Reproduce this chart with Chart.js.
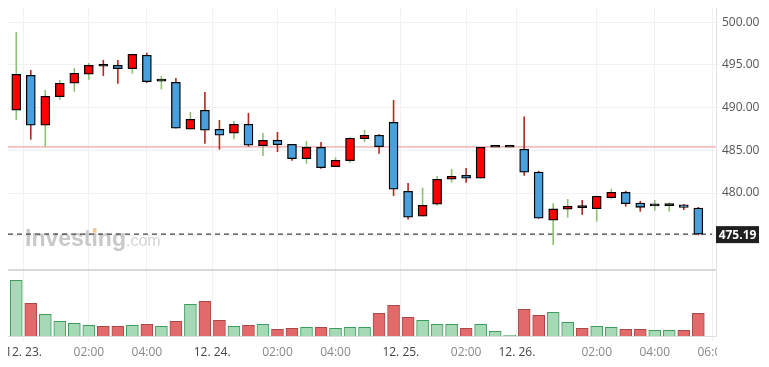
<!DOCTYPE html>
<html>
<head>
<meta charset="utf-8">
<script src="https://cdn.jsdelivr.net/npm/chart.js@4.4.1/dist/chart.umd.min.js"></script>
<style>
  html, body { margin: 0; padding: 0; background: #fff; }
  #wrap { position: absolute; left: 8px; top: 8px; width: 753px; height: 359px; }
</style>
</head>
<body>
<div id="wrap"><canvas id="chart" width="753" height="359"></canvas></div>
<script>
// 30 minute candles, 12.22 23:30 .. 12.26 06:00
const opens  = [489.70, 493.79, 487.94, 491.29, 492.86, 493.91, 494.85, 494.96, 494.57, 496.14,
                493.10, 492.97, 487.47, 489.70, 487.47, 487.00, 488.06, 485.55, 486.18, 485.71,
                484.03, 485.36, 483.09, 483.79, 486.37, 486.77, 488.29, 480.21, 477.28, 478.69,
                481.62, 482.08, 481.73, 485.36, 485.36, 485.13, 482.47, 476.81, 478.10, 478.29,
                478.17, 479.46, 480.09, 478.84, 478.49, 478.53, 478.61, 478.25];
const highs  = [498.86, 494.41, 492.07, 493.24, 494.65, 495.23, 495.59, 495.59, 496.30, 496.44,
                493.71, 493.48, 489.50, 491.84, 488.56, 488.44, 489.38, 487.04, 487.15, 485.75,
                486.10, 485.98, 484.19, 486.57, 487.39, 486.92, 490.90, 481.18, 480.63, 482.00,
                482.82, 482.94, 485.40, 485.36, 485.36, 488.95, 482.59, 478.81, 479.31, 479.19,
                479.70, 480.48, 480.25, 479.07, 479.19, 478.88, 478.72, 478.37];
const lows   = [488.56, 486.25, 485.43, 490.94, 491.87, 493.28, 493.71, 492.81, 493.98, 492.89,
                492.15, 487.55, 487.45, 485.78, 485.08, 486.30, 485.43, 484.34, 484.81, 483.79,
                483.44, 482.86, 483.05, 483.52, 485.98, 484.61, 479.66, 476.89, 477.25, 478.52,
                481.22, 481.22, 481.70, 485.36, 485.36, 482.04, 477.00, 473.92, 477.12, 477.44,
                476.65, 479.31, 478.41, 477.82, 477.94, 477.82, 478.02, 475.06];
const closes = [493.91, 487.94, 491.33, 492.86, 494.03, 494.96, 494.85, 494.57, 496.25, 493.05,
                493.10, 487.59, 488.64, 487.35, 486.77, 488.06, 485.60, 486.18, 485.67, 484.03,
                485.36, 482.97, 483.84, 486.42, 486.77, 485.43, 480.44, 477.17, 478.57, 481.62,
                481.97, 481.73, 485.36, 485.36, 485.36, 482.44, 477.05, 478.14, 478.45, 478.29,
                479.63, 480.09, 478.76, 478.33, 478.49, 478.53, 478.33, 475.19];
const volumes = [5570, 3270, 2170, 1470, 1270, 1070, 970, 970, 1070, 1170,
                 970, 1470, 3170, 3470, 1570, 970, 1070, 1170, 670, 770,
                 870, 870, 770, 870, 870, 2270, 3070, 1870, 1570, 1170,
                 1170, 770, 1170, 470, 70, 2670, 2070, 2370, 1370, 770,
                 970, 870, 670, 670, 570, 570, 570, 2270];

const tickPos  = [0.5, 5, 9, 13.5, 18, 22, 26.5, 31, 34.5, 40, 44, 48];
const tickText = ['12. 23.', '02:00', '04:00', '12. 24.', '02:00', '04:00',
                  '12. 25.', '02:00', '12. 26.', '02:00', '04:00', '06:00'];
const priceTicks = [475, 480, 485, 490, 495, 500];
const prevClose = 485.4;
const panelFloor = 471;

const lastClose = closes[closes.length - 1];

// up / down of each candle, ties fall back on the previous close
const side = closes.map((c, i) => {
    const s = Math.sign(c - opens[i]);
    if (s) return s;
    if (i > 0 && c !== closes[i - 1]) return Math.sign(c - closes[i - 1]);
    return 1;
});
const bodyColor = closes.map((c, i) => c > opens[i] ? '#ff0000' : (c < opens[i] ? '#4aa0dc' : '#111111'));
const wickColor = side.map(s => s > 0 ? '#8cc26f' : '#b3261e');
const volFill = side.map(s => s > 0 ? '#a6d9b5' : '#e26a6a');
const volLine = side.map(s => s > 0 ? '#3e9c5c' : '#a84848');

const FONT = '"Open Sans", "DejaVu Sans", sans-serif';
const LOGO = '"Liberation Sans", Arial, sans-serif';

const overlay = {
    id: 'overlay',
    beforeDatasetsDraw(chart) {
        const { ctx, chartArea: a, scales: { y } } = chart;
        ctx.save();

        // watermark
        ctx.textBaseline = 'alphabetic';
        ctx.font = 'bold 23px ' + LOGO;
        ctx.fillStyle = '#c9c9c9';
        ctx.fillText('Investing', 17, 238);
        const wInv = ctx.measureText('Investing').width;
        const wPre = ctx.measureText('Invest').width;
        const wI = ctx.measureText('i').width;
        ctx.fillStyle = '#f7c98a';
        ctx.fillRect(17 + wPre + wI / 2 - 1.8, 221, 3.6, 3.6);
        ctx.font = '16px ' + LOGO;
        ctx.fillStyle = '#d4d4d4';
        ctx.fillText('.com', 17 + wInv, 238);

        // volume panel separator
        const ySep = y.getPixelForValue(panelFloor);
        ctx.strokeStyle = '#cccccc';
        ctx.lineWidth = 1.5;
        ctx.beginPath();
        ctx.moveTo(a.left, ySep);
        ctx.lineTo(a.right, ySep);
        ctx.stroke();

        // previous close
        const yPrev = y.getPixelForValue(prevClose);
        ctx.strokeStyle = '#f2a5a5';
        ctx.lineWidth = 1.3;
        ctx.beginPath();
        ctx.moveTo(a.left, yPrev);
        ctx.lineTo(a.right, yPrev);
        ctx.stroke();

        // last price
        const yLast = y.getPixelForValue(lastClose);
        ctx.strokeStyle = '#444444';
        ctx.lineWidth = 1.3;
        ctx.setLineDash([5, 4]);
        ctx.beginPath();
        ctx.moveTo(a.left, yLast);
        ctx.lineTo(a.right - 4, yLast);
        ctx.stroke();
        ctx.restore();
    },
    afterDraw(chart) {
        const { ctx, chartArea: a, scales: { y } } = chart;
        ctx.save();
        // the price axis hides the end of the time axis
        ctx.fillStyle = '#ffffff';
        ctx.fillRect(a.right + 1, a.bottom + 6, chart.width - a.right, chart.height - a.bottom);

        const yLast = y.getPixelForValue(lastClose);
        ctx.fillStyle = '#1f1f1f';
        ctx.fillRect(a.right, yLast - 8, 43, 17);
        ctx.fillStyle = '#ffffff';
        ctx.font = 'bold 12px ' + FONT;
        ctx.textBaseline = 'middle';
        ctx.textAlign = 'center';
        ctx.fillText(lastClose.toFixed(2), a.right + 21.5, yLast + 1);
        ctx.restore();
    }
};

const idx = closes.map((c, i) => i);

new Chart(document.getElementById('chart'), {
    type: 'bar',
    data: {
        datasets: [
            {
                label: 'body',
                order: 0,
                yAxisID: 'y',
                data: idx.map(i => ({ x: i, y: [opens[i], closes[i]] })),
                backgroundColor: bodyColor,
                borderColor: '#000000',
                borderWidth: 1.3,
                borderSkipped: false,
                minBarLength: 2,
                grouped: false,
                barThickness: 9,
                maxBarThickness: 9
            },
            {
                label: 'wick',
                order: 1,
                yAxisID: 'y',
                data: idx.map(i => ({ x: i, y: [lows[i], highs[i]] })),
                backgroundColor: wickColor,
                borderWidth: 0,
                inflateAmount: 0,
                grouped: false,
                barThickness: 1.6,
                maxBarThickness: 1.6
            },
            {
                label: 'volume',
                order: 2,
                yAxisID: 'yv',
                data: idx.map(i => ({ x: i, y: volumes[i] })),
                backgroundColor: volFill,
                borderColor: volLine,
                borderWidth: 1,
                grouped: false,
                barThickness: 12,
                maxBarThickness: 12
            }
        ]
    },
    options: {
        responsive: false,
        animation: false,
        devicePixelRatio: 1,
        events: [],
        layout: { padding: 0 },
        plugins: { legend: { display: false }, tooltip: { enabled: false } },
        scales: {
            x: {
                type: 'linear',
                offset: false,
                min: -0.57,
                max: 48.22,
                afterBuildTicks: s => { s.ticks = tickPos.map(v => ({ value: v })); },
                afterFit: s => { s.height = 31; s.paddingLeft = 0; s.paddingRight = 0; },
                ticks: {
                    autoSkip: false,
                    maxRotation: 0,
                    padding: 4,
                    font: { family: FONT, size: 12 },
                    color: c => (tickText[c.index] || '').includes('.') ? '#444444' : '#888888',
                    callback: (v, i) => tickText[i]
                },
                grid: { color: '#f1f1f1', tickLength: 5, offset: false },
                border: { color: '#dddddd' }
            },
            y: {
                position: 'right',
                min: 463.26,
                max: 501.67,
                afterBuildTicks: s => { s.ticks = priceTicks.map(v => ({ value: v })); },
                afterFit: s => { s.width = 45; s.paddingTop = 0; s.paddingBottom = 0; },
                ticks: {
                    padding: 3,
                    color: '#555555',
                    font: { family: FONT, size: 12 },
                    callback: v => v.toFixed(2)
                },
                grid: { color: '#f1f1f1', tickLength: 3 },
                border: { color: '#dfe3ea' }
            },
            yv: {
                display: false,
                min: 0,
                max: 32800
            }
        }
    },
    plugins: [overlay]
});
</script>
</body>
</html>
